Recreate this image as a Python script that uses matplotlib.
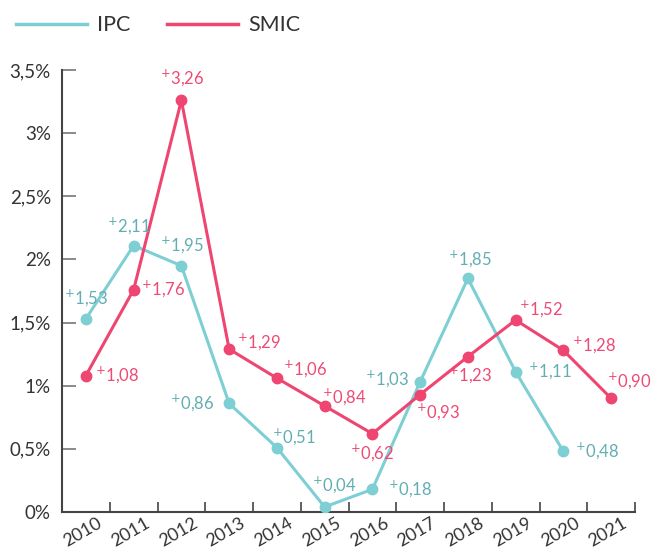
import matplotlib
matplotlib.use("Agg")
import matplotlib.pyplot as plt
from matplotlib.ticker import FixedLocator, FuncFormatter
import matplotlib.transforms as mtrans
import numpy as np

plt.rcParams['font.family'] = ['Lato', 'DejaVu Sans']

years = ['2010', '2011', '2012', '2013', '2014', '2015',
         '2016', '2017', '2018', '2019', '2020', '2021']
ipc = [1.53, 2.11, 1.95, 0.86, 0.51, 0.04, 0.18, 1.03, 1.85, 1.11, 0.48]
smic = [1.08, 1.76, 3.26, 1.29, 1.06, 0.84, 0.62, 0.93, 1.23, 1.52, 1.28, 0.90]

# label placement (pixels from point, horizontal alignment)
ipc_lab = [(0, 20, 'center'), (-5, 19, 'center'), (1, 20, 'center'),
           (-15, 0, 'right'), (-5, 10, 'left'), (10, 21, 'center'),
           (16, 0, 'left'), (-11, 2, 'right'), (2, 19, 'center'),
           (12, 0, 'left'), (12, 0, 'left')]
smic_lab = [(9, 0, 'left'), (7, 0, 'left'), (1, 22, 'center'),
            (8, 7, 'left'), (6, 9, 'left'), (-3, 8, 'left'),
            (0, -20, 'center'), (-4, -18, 'left'), (2, -19, 'center'),
            (3, 11, 'left'), (9, 5, 'left'), (-4, 17, 'left')]

c_ipc = '#7dcfd4'
c_ipc_txt = '#62aeb2'
c_smic = '#ee4571'
c_smic_txt = '#ef4a74'

fig = plt.figure(figsize=(6.54, 5.51), dpi=100)
ax = fig.add_axes([62/654, 39/551, (635-62)/654, (512-70)/551])

x = np.arange(len(years))
ax.plot(x[:len(ipc)], ipc, color=c_ipc, lw=2.2, marker='o', ms=7.5,
        label='IPC', zorder=3)
ax.plot(x, smic, color=c_smic, lw=2.2, marker='o', ms=7.5,
        label='SMIC', zorder=4)

def fmt(v):
    return r'$^{\mathsf{+}}$' + f'{v:.2f}'.replace('.', ',')

for xi, v, (dx, dy, ha) in zip(x, ipc, ipc_lab):
    ax.annotate(fmt(v), (xi, v), xytext=(dx, dy), textcoords='offset pixels',
                ha=ha, va='center', fontsize=12, color=c_ipc_txt, zorder=5)
for xi, v, (dx, dy, ha) in zip(x, smic, smic_lab):
    ax.annotate(fmt(v), (xi, v), xytext=(dx, dy), textcoords='offset pixels',
                ha=ha, va='center', fontsize=12, color=c_smic_txt, zorder=5)

ax.set_xlim(-0.5, len(years) - 0.5)
ax.set_ylim(0, 3.5)

for s in ['top', 'right']:
    ax.spines[s].set_visible(False)
for s in ['left', 'bottom']:
    ax.spines[s].set_color('#444444')
    ax.spines[s].set_linewidth(1.5)

ax.set_yticks(np.arange(0, 3.51, 0.5))
ax.yaxis.set_major_formatter(FuncFormatter(
    lambda v, p: (f'{v:g}'.replace('.', ',')) + '%'))
ax.tick_params(axis='y', direction='in', length=10, width=1.2,
               color='#777777', pad=8, labelsize=13.5, labelcolor='#333333')

ax.set_xticks(x)
ax.set_xticklabels(years)
ax.xaxis.set_minor_locator(FixedLocator(np.arange(0.5, len(years), 1.0)))
ax.tick_params(axis='x', which='major', length=0, pad=2,
               labelsize=13, labelcolor='#333333')
ax.tick_params(axis='x', which='minor', direction='in', length=7.5,
               width=1.2, color='#444444')
shift = mtrans.ScaledTranslation(11/100, 0, fig.dpi_scale_trans)
for lab in ax.get_xticklabels():
    lab.set_rotation(30)
    lab.set_ha('right')
    lab.set_rotation_mode('anchor')
    lab.set_transform(lab.get_transform() + shift)

fig.legend(loc='upper left', bbox_to_anchor=(-3/654, 1 + 4/551), ncol=2,
           frameon=False, fontsize=15.5, handlelength=3.3,
           handletextpad=0.45, columnspacing=1.7, labelcolor='#333333')
for line in fig.legends[0].get_lines():
    line.set_marker('')
    line.set_linewidth(2.5)

fig.savefig('out.png', dpi=100)
